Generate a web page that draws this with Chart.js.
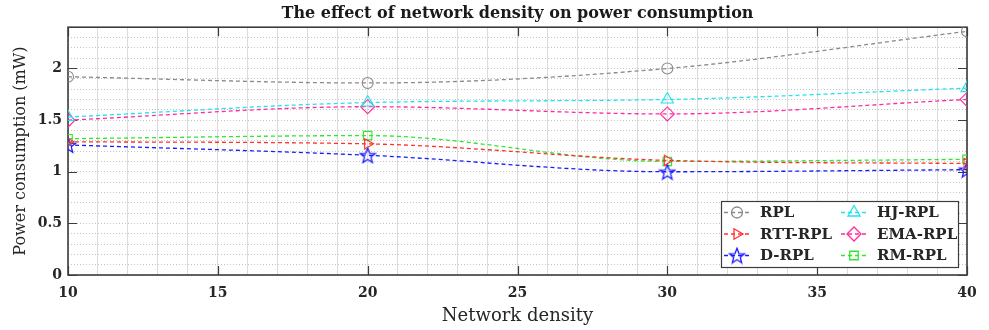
<!DOCTYPE html>
<html lang="en">
<head>
<meta charset="UTF-8" />
<title>The effect of network density on power consumption</title>
<style>
  html, body { margin: 0; padding: 0; background: #fff; }
  #wrap { width: 989px; height: 330px; }
</style>
</head>
<body>
<div id="wrap"><canvas id="powerChart" width="989" height="330"></canvas></div>

<script src="https://cdn.jsdelivr.net/npm/chart.js"></script>
<script>
// x positions (network density) and power consumption per protocol, in mW
const densities = [10, 20, 30, 40];
const rpl    = [1.92, 1.86, 2.00, 2.36];
const hjRpl  = [1.53, 1.67, 1.70, 1.81];
const rttRpl = [1.29, 1.27, 1.11, 1.08];
const emaRpl = [1.50, 1.63, 1.56, 1.70];
const dRpl   = [1.26, 1.16, 1.00, 1.02];
const rmRpl  = [1.32, 1.35, 1.10, 1.12];

const xMajor = [10, 15, 20, 25, 30, 35, 40];
const yMajor = [0, 0.5, 1, 1.5, 2];

const SERIF = "'DejaVu Serif', 'Liberation Serif', serif";
const INK = '#262626';

// five-pointed outline star, used as a custom pointStyle
function starImage(color) {
  const c = document.createElement('canvas');
  const s = 18;
  c.width = s; c.height = s;
  const g = c.getContext('2d');
  g.strokeStyle = color;
  g.lineWidth = 1.3;
  g.beginPath();
  for (let i = 0; i < 10; i++) {
    const r = i % 2 ? 3.4 : 8;
    const a = -Math.PI / 2 + i * Math.PI / 5;
    g.lineTo(s / 2 + r * Math.cos(a), s / 2 + 0.8 + r * Math.sin(a));
  }
  g.closePath();
  g.stroke();
  return c;
}

function series(label, values, color, style, extra) {
  return Object.assign({
    label: label,
    data: densities.map((x, i) => ({ x: x, y: values[i] })),
    borderColor: color,
    borderWidth: 1.3,
    borderDash: [4, 3],
    pointStyle: style,
    pointRadius: 5.5,
    pointHoverRadius: 5.5,
    pointBorderColor: color,
    pointBackgroundColor: 'rgba(0,0,0,0)',
    pointBorderWidth: 1.1,
    cubicInterpolationMode: 'monotone',
    fill: false
  }, extra || {});
}

// legend order is row by row: left column then right column
const datasets = [
  series('RPL', rpl, '#8a8a8a', 'circle'),
  series('HJ-RPL', hjRpl, '#22e2ee', 'triangle', { pointRadius: 7 }),
  series('RTT-RPL', rttRpl, '#ff3030', 'triangle', { pointRotation: 90, pointRadius: 6 }),
  series('EMA-RPL', emaRpl, '#ff2aa0', 'rectRot', { pointRadius: 7 }),
  series('D-RPL', dRpl, '#1a1aff', starImage('#1a1aff')),
  series('RM-RPL', rmRpl, '#2ee82e', 'rect', { pointRadius: 6 })
];

// axes box with inward tick marks on all four sides
const frame = {
  id: 'frame',
  beforeDatasetsDraw(chart) {
    const { ctx, chartArea: a, scales } = chart;
    ctx.save();
    ctx.setLineDash([]);
    ctx.strokeStyle = '#3c3c3c';
    ctx.lineWidth = 1.2;
    ctx.beginPath();
    xMajor.forEach(v => {
      const px = Math.round(scales.x.getPixelForValue(v)) + 0.5;
      ctx.moveTo(px, a.bottom); ctx.lineTo(px, a.bottom - 9);
      ctx.moveTo(px, a.top); ctx.lineTo(px, a.top + 9);
    });
    yMajor.forEach(v => {
      const py = Math.round(scales.y.getPixelForValue(v)) + 0.5;
      ctx.moveTo(a.left, py); ctx.lineTo(a.left + 9, py);
      ctx.moveTo(a.right, py); ctx.lineTo(a.right - 9, py);
    });
    ctx.stroke();
    ctx.lineWidth = 1.6;
    ctx.strokeRect(a.left, a.top, a.right - a.left, a.bottom - a.top);
    ctx.restore();
  }
};

// two-column legend boxed in the lower right corner of the plot
const legendBox = {
  id: 'legendBox',
  afterDraw(chart) {
    const { ctx, chartArea: a } = chart;
    const w = 237, h = 66;
    const x0 = a.right - 9 - w, y0 = a.bottom - 8 - h;
    ctx.save();
    ctx.setLineDash([]);
    ctx.fillStyle = '#fff';
    ctx.fillRect(x0, y0, w, h);
    ctx.strokeStyle = '#3c3c3c';
    ctx.lineWidth = 1.2;
    ctx.strokeRect(x0 + 0.5, y0 + 0.5, w, h);

    ctx.font = 'bold 15px ' + SERIF;
    ctx.textBaseline = 'middle';
    chart.data.datasets.forEach((ds, i) => {
      const col = i % 2, row = Math.floor(i / 2);
      const lx = x0 + 3 + col * 117;
      const ly = y0 + 11.5 + row * 21.5;
      ctx.strokeStyle = ds.borderColor;
      ctx.lineWidth = 1.3;
      ctx.setLineDash([4, 3]);
      ctx.beginPath();
      ctx.moveTo(lx, ly); ctx.lineTo(lx + 25, ly);
      ctx.stroke();
      ctx.setLineDash([]);
      ctx.fillStyle = 'rgba(0,0,0,0)';
      Chart.helpers.drawPoint(ctx, {
        pointStyle: ds.pointStyle,
        rotation: ds.pointRotation || 0,
        radius: ds.pointRadius,
        borderWidth: ds.pointBorderWidth
      }, lx + 13, ly);
      ctx.fillStyle = INK;
      ctx.fillText(ds.label, lx + 36, ly + 1);
    });
    ctx.restore();
  }
};

new Chart(document.getElementById('powerChart'), {
  type: 'line',
  data: { datasets: datasets },
  plugins: [frame, legendBox],
  options: {
    responsive: false,
    animation: false,
    layout: { padding: { left: 0, right: 22, top: 0, bottom: 0 } },
    plugins: {
      legend: { display: false },
      tooltip: { enabled: false },
      title: {
        display: true,
        fullSize: false,
        text: 'The effect of network density on power consumption',
        color: '#1a1a1a',
        font: { family: SERIF, size: 16, weight: 'bold' },
        padding: { top: 4, bottom: 4 }
      }
    },
    scales: {
      x: {
        type: 'linear',
        min: 10,
        max: 40,
        ticks: {
          stepSize: 1,
          autoSkip: false,
          maxRotation: 0,
          padding: 10,
          color: INK,
          font: { family: SERIF, size: 14, weight: 'bold' },
          callback: v => (v % 5 === 0 ? String(v) : '')
        },
        grid: { color: '#dcdcdc', lineWidth: 1, drawTicks: false },
        border: { display: false },
        title: {
          display: true,
          text: 'Network density',
          color: INK,
          font: { family: SERIF, size: 18 },
          padding: { top: 0, bottom: 3 }
        },
        afterFit: s => { s.height = 55; }
      },
      y: {
        min: 0,
        max: 2.4,
        ticks: {
          stepSize: 0.1,
          autoSkip: false,
          padding: 6,
          color: INK,
          font: { family: SERIF, size: 14, weight: 'bold' },
          callback: v => {
            const t = Math.round(v * 10);
            return t % 5 === 0 ? String(t / 10) : '';
          }
        },
        grid: { color: '#c4c4c4', lineWidth: 1, drawTicks: false },
        border: { display: false, dash: [1, 2] },
        title: {
          display: true,
          text: 'Power consumption (mW)',
          color: INK,
          font: { family: SERIF, size: 16 },
          padding: { top: 11, bottom: 0 }
        },
        afterFit: s => { s.width = 68; }
      }
    }
  }
});
</script>
</body>
</html>
